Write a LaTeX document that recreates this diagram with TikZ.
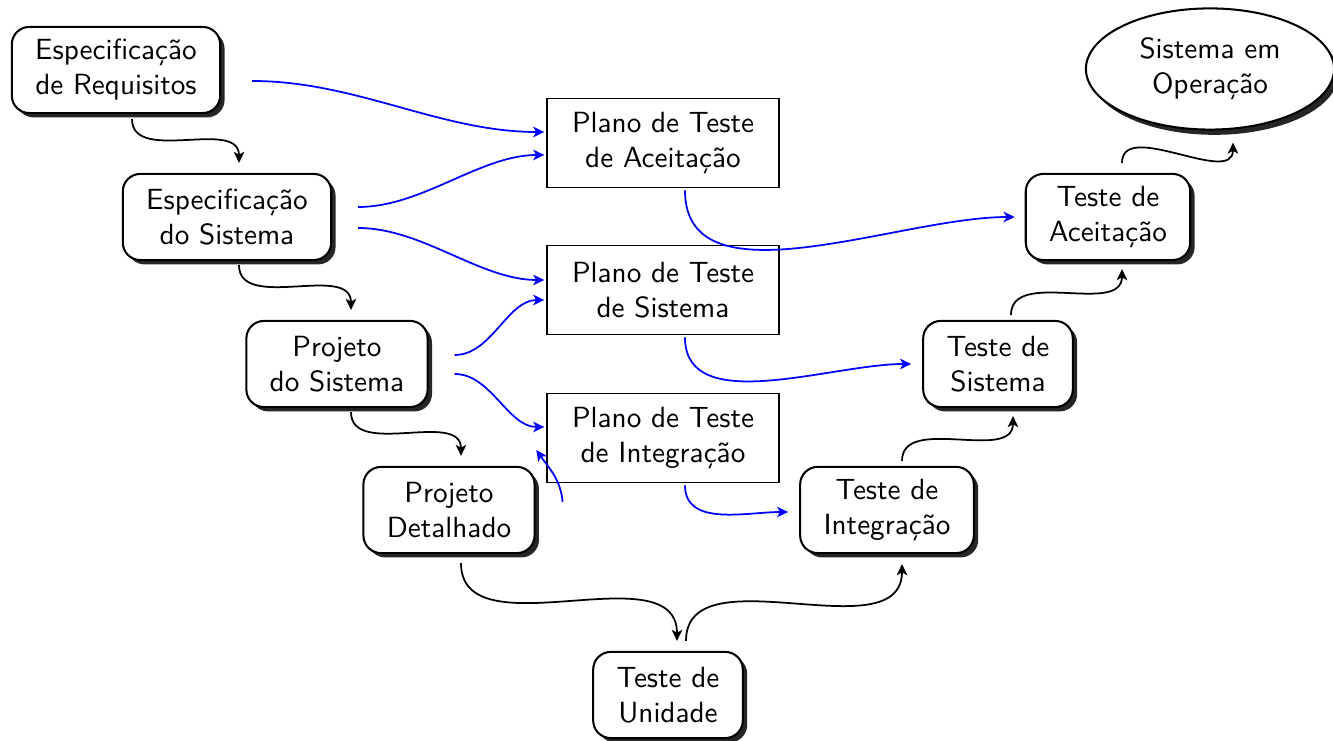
\documentclass[tikz,border=0pt]{standalone}
\usetikzlibrary{shapes.geometric,shadows,arrows.meta,calc}
\begin{document}
\begin{tikzpicture}[x=0.3425pt,y=0.3425pt,font=\sffamily,
  box/.style={draw,line width=0.7pt,rounded corners=6pt,fill=white,align=center,
    inner xsep=8pt,inner ysep=2pt,minimum height=29.5pt,
    drop shadow={shadow xshift=1.5pt,shadow yshift=-1.5pt,opacity=0.85,fill=black}},
  plano/.style={draw,line width=0.6pt,fill=white,align=center,inner xsep=8.5pt,
    inner ysep=2pt,minimum height=30.5pt},
  oval/.style={ellipse,draw,line width=0.7pt,fill=white,align=center,inner sep=0pt,
    minimum width=85pt,minimum height=41.5pt,
    drop shadow={shadow xshift=1.5pt,shadow yshift=-1.8pt,opacity=0.85,fill=black}},
  blk/.style={line width=0.6pt,-{Stealth[length=3.8pt,width=3.6pt,inset=1pt]}},
  blu/.style={blk,blue},
]
\useasboundingbox (0,0) rectangle (1333,-741);

% left branch
\node[box] (req) at (116,-70) {Especificação\\de Requisitos};
\node[box] (espsis) at (227,-217) {Especificação\\do Sistema};
\node[box] (projsis) at (337,-364) {Projeto\\do Sistema};
\node[box] (projdet) at (449,-510) {Projeto\\Detalhado};
\node[box] (unid) at (668,-695) {Teste de\\Unidade};
% right branch
\node[box] (integ) at (887,-510) {Teste de\\Integração};
\node[box] (tsis) at (998,-364) {Teste de\\Sistema};
\node[box] (tace) at (1108,-217) {Teste de\\Aceitação};
\node[oval] (oper) at (1210,-69) {Sistema em\\Operação};
% plans
\node[plano] (pace) at (663,-143) {Plano de Teste\\de Aceitação};
\node[plano] (psis) at (663,-290) {Plano de Teste\\de Sistema};
\node[plano] (pint) at (663,-438) {Plano de Teste\\de Integração};

% black flow
\draw[blk] ($(req.south)+(16,-5)$) to[out=-90,in=90] ($(espsis.north)+(12,10)$);
\draw[blk] ($(espsis.south)+(12,-4)$) to[out=-90,in=90] ($(projsis.north)+(14,10)$);
\draw[blk] ($(projsis.south)+(14,-4)$) to[out=-90,in=90] ($(projdet.north)+(12,10)$);
\draw[blk] ($(projdet.south)+(12,-9)$) to[out=-90,in=90] ($(unid.north)+(9,10)$);
\draw[blk] ($(unid.north)+(18,10)$) to[out=90,in=-90] ($(integ.south)+(15,-10)$);
\draw[blk] ($(integ.north)+(15,5)$) to[out=90,in=-90] ($(tsis.south)+(15,-8)$);
\draw[blk] ($(tsis.north)+(13,5)$) to[out=90,in=-90] ($(tace.south)+(14,-8)$);
\draw[blk] ($(tace.north)+(14,10)$) to[out=90,in=-90] ($(oper.south)+(23,-12)$);

% blue: design to plans
\draw[blu] ($(req.east)+(31,-11)$) to[out=0,in=180,looseness=0.9] ($(pace.west)+(-2,11)$);
\draw[blu] ($(espsis.east)+(26,10)$) to[out=0,in=180,looseness=0.85] ($(pace.west)+(-2,-12)$);
\draw[blu] ($(espsis.east)+(26,-11)$) to[out=0,in=180,looseness=0.85] ($(psis.west)+(-2,10)$);
\draw[blu] ($(projsis.east)+(26,9)$) to[out=0,in=180,looseness=0.9] ($(psis.west)+(-2,-10)$);
\draw[blu] ($(projsis.east)+(26,-10)$) to[out=0,in=180,looseness=0.9] ($(pint.west)+(-2,11)$);
\draw[blu] ($(projdet.east)+(27,8)$) to[out=95,in=-55] ($(pint.west)+(-10,-12)$);

% blue: plans to tests
\draw[blu] ($(pace.south)+(22,-2)$) to[out=-90,in=180,looseness=0.9] ($(tace.west)+(-10,0)$);
\draw[blu] ($(psis.south)+(22,-2)$) to[out=-90,in=180,looseness=0.9] ($(tsis.west)+(-11,0)$);
\draw[blu] ($(pint.south)+(22,-2)$) to[out=-90,in=180] ($(integ.west)+(-11,-2)$);
\end{tikzpicture}
\end{document}
